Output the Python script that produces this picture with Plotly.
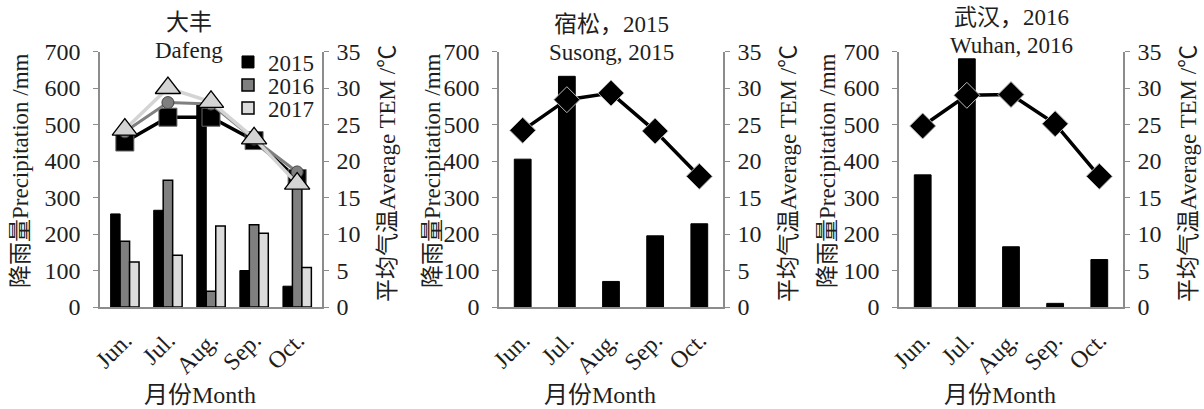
import plotly.graph_objects as go

months = ["Jun.", "Jul.", "Aug.", "Sep.", "Oct."]

# Panel 1: Dafeng
df_rain_2015 = [255, 265, 555, 100, 57]
df_rain_2016 = [180, 347, 43, 225, 365]
df_rain_2017 = [123, 142, 222, 202, 108]
df_tem_2015 = [22.6, 26.0, 26.0, 22.8, 17.6]
df_tem_2016 = [24.0, 28.0, 27.8, 23.0, 18.5]
df_tem_2017 = [24.3, 30.0, 28.1, 23.1, 16.9]

# Panel 2: Susong 2015
ss_rain = [405, 632, 70, 195, 228]
ss_tem = [24.2, 28.4, 29.3, 24.1, 17.9]

# Panel 3: Wuhan 2016
wh_rain = [362, 680, 165, 10, 130]
wh_tem = [24.8, 29.0, 29.1, 25.1, 17.9]

left_ticks = [0, 100, 200, 300, 400, 500, 600, 700]
right_ticks = [0, 5, 10, 15, 20, 25, 30, 35]

FONT = "Liberation Serif, Noto Sans CJK SC, serif"
TXT = "#1e1e1e"
AX = "#8c8c8c"

fig = go.Figure()

# Panel 1 bars (each in its own legend box to control spacing)
fig.add_trace(go.Bar(x=months, y=df_rain_2015, name="2015", legend="legend",
                     marker=dict(color="#000000", line=dict(color="#000000", width=1)), xaxis="x", yaxis="y"))
fig.add_trace(go.Bar(x=months, y=df_rain_2016, name="2016", legend="legend2",
                     marker=dict(color="#7f7f7f", line=dict(color="#000000", width=1.5)), xaxis="x", yaxis="y"))
fig.add_trace(go.Bar(x=months, y=df_rain_2017, name="2017", legend="legend3",
                     marker=dict(color="#dcdcdc", line=dict(color="#000000", width=1.5)), xaxis="x", yaxis="y"))

# Panel 1 lines
fig.add_trace(go.Scatter(x=months, y=df_tem_2015, mode="lines+markers", showlegend=False,
                         line=dict(color="#000000", width=3.5),
                         marker=dict(symbol="square", size=18, color="#000000", line=dict(color="#666666", width=1)),
                         xaxis="x", yaxis="y2"))
fig.add_trace(go.Scatter(x=months, y=df_tem_2016, mode="lines+markers", showlegend=False,
                         line=dict(color="#7f7f7f", width=3),
                         marker=dict(symbol="circle", size=12, color="#7f7f7f", line=dict(color="#444444", width=1)),
                         xaxis="x", yaxis="y2"))
fig.add_trace(go.Scatter(x=months, y=df_tem_2017, mode="lines+markers", showlegend=False,
                         line=dict(color="#d4d4d4", width=3.5),
                         marker=dict(symbol="triangle-up", size=22, color="#d4d4d4", line=dict(color="#000000", width=1.3)),
                         xaxis="x", yaxis="y2"))

# Panel 2
fig.add_trace(go.Bar(x=months, y=ss_rain, showlegend=False, width=0.38,
                     marker=dict(color="#000000", line=dict(color="#000000", width=1)), xaxis="x2", yaxis="y3"))
fig.add_trace(go.Scatter(x=months, y=ss_tem, mode="lines+markers", showlegend=False,
                         line=dict(color="#000000", width=3.5),
                         marker=dict(symbol="diamond", size=20, color="#000000", line=dict(color="#bbbbbb", width=1)),
                         xaxis="x2", yaxis="y4"))

# Panel 3
fig.add_trace(go.Bar(x=months, y=wh_rain, showlegend=False, width=0.38,
                     marker=dict(color="#000000", line=dict(color="#000000", width=1)), xaxis="x3", yaxis="y5"))
fig.add_trace(go.Scatter(x=months, y=wh_tem, mode="lines+markers", showlegend=False,
                         line=dict(color="#000000", width=3.5),
                         marker=dict(symbol="diamond", size=20, color="#000000", line=dict(color="#bbbbbb", width=1)),
                         xaxis="x3", yaxis="y6"))

W, H = 1204, 409
y_dom = [1 - 307 / H, 1 - 51.5 / H]
panels = [(100, 322), (499, 723), (899, 1123)]

tickfont = dict(family=FONT, size=24, color=TXT)

def leg(ypx):
    return dict(x=228 / W, y=1 - ypx / H, xanchor="left", yanchor="middle",
                bgcolor="rgba(0,0,0,0)", font=dict(family=FONT, size=23, color=TXT),
                itemwidth=30, borderwidth=0)

layout = dict(
    template="none",
    width=W, height=H,
    margin=dict(l=0, r=0, t=0, b=0, pad=0, autoexpand=False),
    paper_bgcolor="white", plot_bgcolor="white",
    font=dict(family=FONT, color=TXT),
    barmode="group", bargap=0.34, bargroupgap=0.0,
    showlegend=True,
    legend=leg(62), legend2=leg(85), legend3=leg(108),
)

for i, (x0, x1) in enumerate(panels):
    xn = "xaxis" if i == 0 else f"xaxis{i+1}"
    xr = "x" if i == 0 else f"x{i+1}"
    yl = "yaxis" if i == 0 else f"yaxis{2*i+1}"
    yln = "y" if i == 0 else f"y{2*i+1}"
    yr = f"yaxis{2*i+2}"
    layout[xn] = dict(domain=[x0 / W, x1 / W], anchor=yln, showline=True, linecolor=AX, linewidth=1.5,
                      ticks="", tickangle=-45, tickfont=tickfont, showgrid=False, zeroline=False,
                      categoryorder="array", categoryarray=months, ticklabelstandoff=8, automargin=False)
    layout[yl] = dict(domain=y_dom, anchor=xr, range=[0, 700], tickvals=left_ticks, showline=True,
                      linecolor=AX, linewidth=1.5, ticks="outside", ticklen=5, tickcolor=AX,
                      tickfont=tickfont, showgrid=False, zeroline=False, ticklabelstandoff=8, automargin=False)
    layout[yr] = dict(domain=y_dom, anchor=xr, overlaying=yln, side="right", range=[0, 35],
                      tickvals=right_ticks, showline=True, linecolor=AX, linewidth=1.5, ticks="outside",
                      ticklen=5, tickcolor=AX, tickfont=tickfont, showgrid=False, zeroline=False,
                      ticklabelstandoff=3, automargin=False)

fig.update_layout(**layout)

ann = []
titles = [("大丰", "Dafeng", 22, 50, 189), ("宿松，2015", "Susong, 2015", 24, 52, 611), ("武汉，2016", "Wuhan, 2016", 17, 45, 1011)]
left_title_x = [20, 432, 827]
right_title_x = [387, 788, 1188]
for i, (x0, x1) in enumerate(panels):
    cx = (x0 + x1) / 2
    t1, t2, y1, y2, tx = titles[i]
    ann.append(dict(text=t1, x=tx / W, y=1 - y1 / H, xref="paper", yref="paper", showarrow=False,
                    font=dict(family=FONT, size=23, color=TXT), xanchor="center", yanchor="middle"))
    ann.append(dict(text=t2, x=tx / W, y=1 - y2 / H, xref="paper", yref="paper", showarrow=False,
                    font=dict(family=FONT, size=23, color=TXT), xanchor="center", yanchor="middle"))
    ann.append(dict(text="降雨量Precipitation /mm", x=left_title_x[i] / W, y=1 - 171 / H, xref="paper", yref="paper",
                    showarrow=False, textangle=-90, font=dict(family=FONT, size=23, color=TXT),
                    xanchor="center", yanchor="middle"))
    ann.append(dict(text="平均气温Average TEM /℃", x=right_title_x[i] / W, y=1 - 174 / H, xref="paper", yref="paper",
                    showarrow=False, textangle=-90, font=dict(family=FONT, size=23, color=TXT),
                    xanchor="center", yanchor="middle"))
    ann.append(dict(text="月份Month", x=(cx - 11) / W, y=1 - 395 / H, xref="paper", yref="paper", showarrow=False,
                    font=dict(family=FONT, size=24, color=TXT), xanchor="center", yanchor="middle"))
fig.update_layout(annotations=ann)

fig.write_html("out.html")
